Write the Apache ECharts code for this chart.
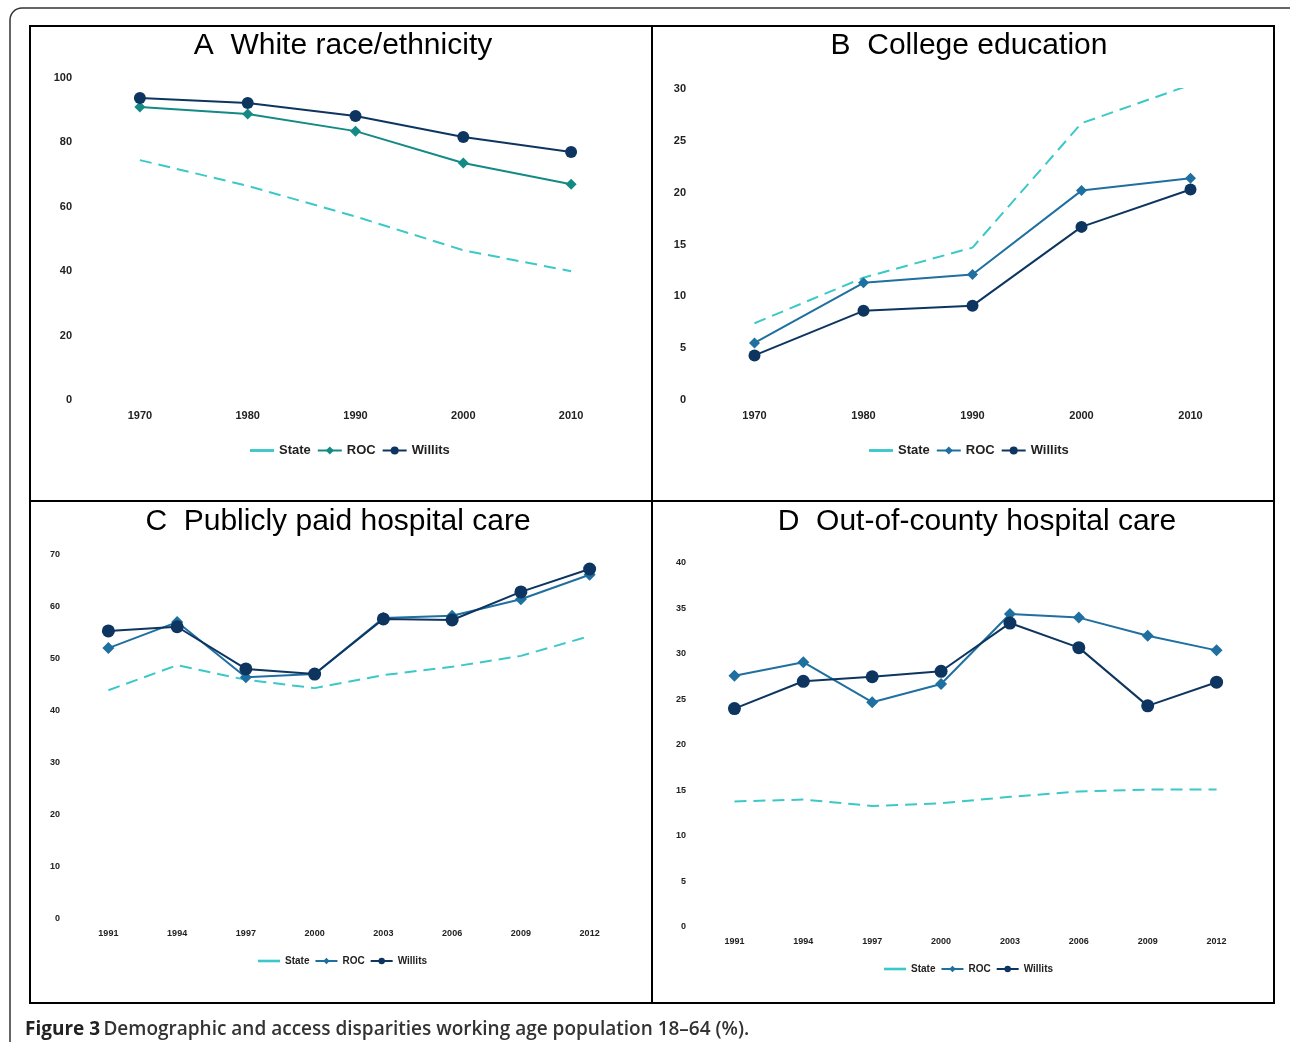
<!DOCTYPE html>
<html><head><meta charset="utf-8">
<script src="https://cdn.jsdelivr.net/npm/echarts@6/dist/echarts.min.js"></script>
<style>html,body{margin:0;padding:0;background:#fff}#c{width:1290px;height:1042px}</style>
</head><body><div id="c"></div>
<script>
const yearsAB = ['1970','1980','1990','2000','2010'];
const yearsCD = ['1991','1994','1997','2000','2003','2006','2009','2012'];
const aState = [74.5,66.5,57,46.5,40];
const aROC = [91,88.8,83.5,73.6,67];
const aWillits = [93.8,92.2,88.2,81.7,77];
const bState = [7.4,11.8,14.7,26.7,30.4];
const bROC = [5.5,11.3,12.1,20.2,21.4];
const bWillits = [4.3,8.6,9.1,16.7,20.3];
const cState = [44,48.8,46,44.4,46.9,48.5,50.6,54.4];
const cROC = [52.1,57.1,46.5,47.1,57.9,58.3,61.5,66.2];
const cWillits = [55.4,56.2,48.1,47.1,57.7,57.5,62.9,67.3];
const dState = [13.8,14,13.3,13.6,14.3,14.9,15.1,15.1];
const dROC = [27.6,29.1,24.7,26.7,34.4,34.0,32,30.4];
const dWillits = [24,27,27.5,28.1,33.4,30.7,24.3,26.9];
const titles = ['A  White race/ethnicity','B  College education','C  Publicly paid hospital care','D  Out-of-county hospital care'];

const cState_ = '#3cc8c8', cWill = '#0d3560';
const rocCols = ['#138a85','#1f6fa0','#1f6fa0','#1f6fa0'];
const grids = [
  {left:86,width:539,top:78,height:322},
  {left:700,width:545,top:89,height:311},
  {left:74,width:550,top:555,height:364},
  {left:700,width:551,top:563,height:364}
];
const yCfg = [{max:100,interval:20},{max:30,interval:5},{max:70,interval:10},{max:40,interval:5}];
const cats = [yearsAB,yearsAB,yearsCD,yearsCD];
const data = [[aState,aROC,aWillits],[bState,bROC,bWillits],[cState,cROC,cWillits],[dState,dROC,dWillits]];
const legendY = [439,439,951,959];
const small = [false,false,true,true];
const titleX = [343,969,338,977];
const titleY = [46,46,522,522];
const legLeft=[245,864,253,879];

const opt = {animation:false, textStyle:{fontFamily:'Liberation Sans'},
  grid:grids, xAxis:[], yAxis:[], series:[], legend:[], graphic:[]};
for (let i=0;i<4;i++){
  const fs = small[i]?9:11;
  opt.graphic.push({type:'text',x:titleX[i],y:titleY[i],style:{text:titles[i],textAlign:'center',textVerticalAlign:'middle',
    font:'30px "Liberation Sans"',fill:'#000'}});
  opt.xAxis.push({type:'category',gridIndex:i,data:cats[i],axisLine:{show:false},axisTick:{show:false},
    axisLabel:{fontSize:fs,fontWeight:'bold',color:'#222',margin:10}});
  opt.yAxis.push({type:'value',gridIndex:i,min:0,max:yCfg[i].max,interval:yCfg[i].interval,
    splitLine:{show:false},axisLine:{show:false},axisTick:{show:false},
    axisLabel:{fontSize:fs,fontWeight:'bold',color:'#222',margin:14}});
  const [s,r,w]=data[i];
  opt.series.push({name:'State',type:'line',xAxisIndex:i,yAxisIndex:i,data:s,showSymbol:false,symbol:'none',
    lineStyle:{color:cState_,width:2,type:[12,7]},itemStyle:{color:cState_}});
  opt.series.push({name:'ROC',type:'line',xAxisIndex:i,yAxisIndex:i,data:r,symbol:'diamond',symbolSize:small[i]?12:11,
    lineStyle:{color:rocCols[i],width:2},itemStyle:{color:rocCols[i]}});
  opt.series.push({name:'Willits',type:'line',xAxisIndex:i,yAxisIndex:i,data:w,symbol:'circle',symbolSize:small[i]?13:12,
    lineStyle:{color:cWill,width:2},itemStyle:{color:cWill}});
  opt.legend.push({left:legLeft[i],top:legendY[i],
    data:[{name:'State',icon:'path://M0,0h1v0.12h-1z',itemStyle:{color:cState_}},
          {name:'ROC',itemStyle:{color:rocCols[i]},lineStyle:{color:rocCols[i]}},
          {name:'Willits',itemStyle:{color:cWill},lineStyle:{color:cWill}}],
    itemWidth:small[i]?22:24,itemHeight:small[i]?8:10,itemGap:small[i]?5:6,
    textStyle:{fontSize:small[i]?10:13,fontWeight:'bold',color:'#222'},
    selectedMode:false});
}
opt.graphic.push(
  {type:'rect',shape:{x:10,y:8,width:1300,height:1100,r:12},style:{fill:'none',stroke:'#333',lineWidth:1.5}},
  {type:'rect',shape:{x:30,y:26,width:1244,height:977},style:{fill:'none',stroke:'#000',lineWidth:2}},
  {type:'line',shape:{x1:652,y1:26,x2:652,y2:1003},style:{stroke:'#000',lineWidth:2}},
  {type:'line',shape:{x1:30,y1:501,x2:1274,y2:501},style:{stroke:'#000',lineWidth:2}},
  {type:'text',x:25,y:1030,style:{textVerticalAlign:'middle',rich:{b:{fontWeight:'bold',fontSize:19,fontFamily:'Open Sans',fill:'#222'},
     n:{fontSize:19,fontFamily:'Open Sans',fill:'#333',fontWeight:'600'}},
     text:'{b|Figure 3} {n|Demographic and access disparities working age population 18–64 (%).}'}}
);
const ch = echarts.init(document.getElementById('c'));
ch.setOption(opt);
</script></body></html>
